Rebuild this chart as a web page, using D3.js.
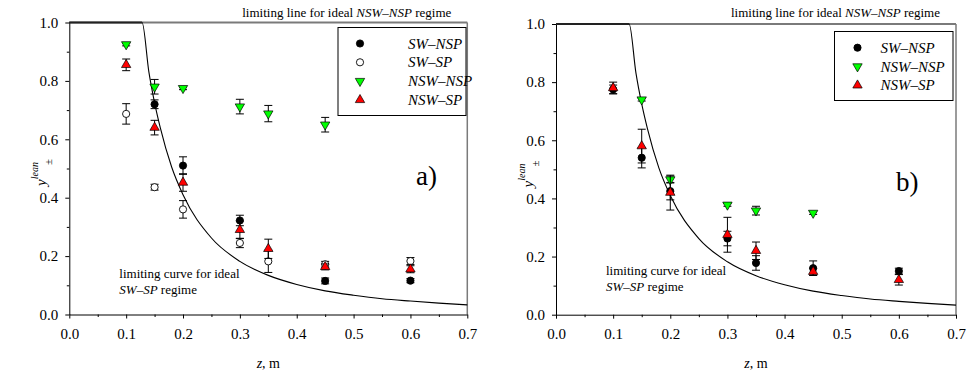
<!DOCTYPE html>
<html>
<head>
<meta charset="utf-8">
<script src="https://cdn.jsdelivr.net/npm/d3@7"></script>
<style>
  html, body { margin: 0; padding: 0; background: #fff; }
  svg text { font-family: "Liberation Serif", "DejaVu Serif", "Times New Roman", serif; }
</style>
</head>
<body>
<svg id="chart" width="969" height="373"></svg>
<script>
// series as [z, y, err]
const aSwNsp = [[0.15, 0.72, 0.015], [0.2, 0.51, 0.03], [0.3, 0.322, 0.018], [0.45, 0.115, 0.01], [0.6, 0.116, 0.007]];
const aSwSp = [[0.1, 0.687, 0.035], [0.15, 0.436, 0.01], [0.2, 0.36, 0.03], [0.3, 0.245, 0.016], [0.35, 0.182, 0.038], [0.45, 0.172, 0.01], [0.6, 0.183, 0.012]];
const aNswNsp = [[0.1, 0.925, 0.005], [0.15, 0.78, 0.025], [0.2, 0.775, 0.005], [0.3, 0.712, 0.025], [0.35, 0.688, 0.028], [0.45, 0.65, 0.025]];
const aNswSp = [[0.1, 0.855, 0.02], [0.15, 0.64, 0.025], [0.2, 0.452, 0.03], [0.3, 0.29, 0.03], [0.35, 0.225, 0.033], [0.45, 0.163, 0.01], [0.6, 0.155, 0.012]];

const bSwNsp = [[0.1, 0.775, 0.015], [0.15, 0.54, 0.035], [0.2, 0.425, 0.03], [0.3, 0.262, 0.025], [0.35, 0.178, 0.025], [0.45, 0.16, 0.025], [0.6, 0.15, 0.01]];
const bNswNsp = [[0.15, 0.74, 0.005], [0.2, 0.465, 0.012], [0.3, 0.378, 0.005], [0.35, 0.358, 0.015], [0.45, 0.35, 0.005]];
const bNswSp = [[0.1, 0.78, 0.02], [0.15, 0.58, 0.058], [0.2, 0.42, 0.06], [0.3, 0.275, 0.06], [0.35, 0.22, 0.03], [0.45, 0.148, 0.012], [0.6, 0.12, 0.018]];

// limiting curve for ideal SW-SP regime
const limitZ = [0, 0.128, 0.14, 0.15, 0.16, 0.18, 0.2, 0.25, 0.3, 0.35, 0.4, 0.45, 0.5, 0.55, 0.6, 0.65, 0.7];
const limitY = [1.0, 1.0, 0.83, 0.725, 0.64, 0.505, 0.41, 0.262, 0.182, 0.134, 0.103, 0.081, 0.066, 0.054, 0.046, 0.039, 0.033];

const xMajor = [0, 0.1, 0.2, 0.3, 0.4, 0.5, 0.6, 0.7];
const xMinor = [0.05, 0.15, 0.25, 0.35, 0.45, 0.55, 0.65];
const yMajor = [0, 0.2, 0.4, 0.6, 0.8, 1.0];
const yMinor = [0.1, 0.3, 0.5, 0.7, 0.9];

const SERIF = '"Liberation Serif", "DejaVu Serif", "Times New Roman", serif';

const styles = {
  "SW–NSP": { shape: "circle", fill: "#000" },
  "SW–SP": { shape: "circle", fill: "#fff" },
  "NSW–NSP": { shape: "down", fill: "#00ff00" },
  "NSW–SP": { shape: "up", fill: "#ff0000" }
};

const svg = d3.select("#chart");

function marker(g, shape, fill) {
  if (shape === "circle") {
    g.append("circle").attr("r", 3.6).attr("fill", fill).attr("stroke", "#000").attr("stroke-width", 0.9);
  } else {
    const p = d3.symbol().type(d3.symbolTriangle).size(38)();
    g.append("path").attr("d", p)
      .attr("transform", shape === "down" ? "rotate(180)" : null)
      .attr("fill", fill).attr("stroke", "#000").attr("stroke-width", 0.7);
  }
}

function drawPanel(p) {
  const x = d3.scaleLinear().domain([0, 0.7]).range([p.left, p.right]);
  const y = d3.scaleLinear().domain([0, 1]).range([p.bottom, p.top]);
  const g = svg.append("g");

  // frame: top (ideal NSW-NSP line) and right in gray
  g.append("line").attr("x1", x(0)).attr("x2", x(0.7)).attr("y1", y(1)).attr("y2", y(1))
    .attr("stroke", "#7a7a7a").attr("stroke-width", 2);
  g.append("line").attr("x1", x(0.7)).attr("x2", x(0.7)).attr("y1", y(1)).attr("y2", y(0))
    .attr("stroke", "#7a7a7a").attr("stroke-width", 1.5);

  // axes
  const fmt = d3.format(".1f");
  g.append("g").attr("transform", `translate(0,${p.bottom})`)
    .call(d3.axisBottom(x).tickValues(xMajor).tickFormat(fmt).tickSize(4).tickPadding(10).tickSizeOuter(0));
  g.append("g").attr("transform", `translate(0,${p.bottom})`)
    .call(d3.axisBottom(x).tickValues(xMinor).tickFormat("").tickSize(2.5).tickSizeOuter(0))
    .select(".domain").remove();
  g.append("g").attr("transform", `translate(${p.left},0)`)
    .call(d3.axisLeft(y).tickValues(yMajor).tickFormat(fmt).tickSize(4).tickPadding(7).tickSizeOuter(0));
  g.append("g").attr("transform", `translate(${p.left},0)`)
    .call(d3.axisLeft(y).tickValues(yMinor).tickFormat("").tickSize(2.5).tickSizeOuter(0))
    .select(".domain").remove();
  g.selectAll(".tick text").style("font-family", SERIF).attr("font-size", 15).attr("fill", "#000");
  g.selectAll(".domain, .tick line").attr("stroke", "#000");

  // limiting curve
  const pts = limitZ.map((z, i) => [z, limitY[i]]);
  g.append("path").datum(pts)
    .attr("d", d3.line().x(d => x(d[0])).y(d => y(d[1])).curve(d3.curveMonotoneX))
    .attr("fill", "none").attr("stroke", "#000").attr("stroke-width", 1.1);
  g.append("line").attr("x1", x(0)).attr("x2", x(0.128)).attr("y1", y(1)).attr("y2", y(1))
    .attr("stroke", "#222").attr("stroke-width", 2);

  // series
  p.series.forEach(s => {
    const st = styles[s.name];
    const sg = g.append("g");
    s.data.forEach(d => {
      const cx = x(d[0]), top = y(d[1] + d[2]), bot = y(d[1] - d[2]);
      sg.append("line").attr("x1", cx).attr("x2", cx).attr("y1", top).attr("y2", bot).attr("stroke", "#000").attr("stroke-width", 1);
      [top, bot].forEach(yy => sg.append("line").attr("x1", cx - 4).attr("x2", cx + 4).attr("y1", yy).attr("y2", yy).attr("stroke", "#000").attr("stroke-width", 1));
    });
    s.data.forEach(d => {
      marker(sg.append("g").attr("transform", `translate(${x(d[0])},${y(d[1])})`), st.shape, st.fill);
    });
  });

  // legend
  const L = p.legend;
  g.append("rect").attr("x", L.x).attr("y", L.y).attr("width", L.w).attr("height", L.h)
    .attr("fill", "#fff").attr("stroke", "#000").attr("stroke-width", 1);
  p.series.forEach((s, i) => {
    const st = styles[s.name];
    const yy = L.y + L.first + i * L.step;
    marker(g.append("g").attr("transform", `translate(${L.x + L.sym},${yy})`), st.shape, st.fill);
    g.append("text").attr("x", L.x + L.txt).attr("y", yy + 5).attr("font-size", 15)
      .attr("font-style", "italic").text(s.name);
  });

  // annotations
  const t1 = g.append("text").attr("x", p.right - 16).attr("y", 17).attr("text-anchor", "end").attr("font-size", 13);
  t1.append("tspan").text("limiting line for ideal ");
  t1.append("tspan").attr("font-style", "italic").text("NSW–NSP");
  t1.append("tspan").text(" regime");

  g.append("text").attr("x", p.left + 50).attr("y", p.curveLabelY).attr("font-size", 13).text("limiting curve for ideal");
  const t2 = g.append("text").attr("x", p.left + 50).attr("y", p.curveLabelY + 16.5).attr("font-size", 13);
  t2.append("tspan").attr("font-style", "italic").text("SW–SP");
  t2.append("tspan").text(" regime");

  g.append("text").attr("x", p.tagX).attr("y", p.tagY).attr("font-size", 27).text(p.tag);

  // axis titles
  const xl = g.append("text").attr("x", (p.left + p.right) / 2).attr("y", 368).attr("text-anchor", "middle").attr("font-size", 14);
  xl.append("tspan").attr("font-style", "italic").text("z");
  xl.append("tspan").text(", m");

  const yl = g.append("text").attr("transform", `translate(${p.left - 23},${p.top + 150}) rotate(-90)`)
    .attr("text-anchor", "middle").attr("font-size", 15);
  yl.append("tspan").attr("font-style", "italic").text("y");
  yl.append("tspan").attr("font-style", "italic").attr("font-size", 10).attr("dy", -8).text("lean");
  yl.append("tspan").attr("font-size", 11).attr("dy", 14).attr("dx", -3).text("±");
}

drawPanel({
  left: 69.3, right: 467.3, top: 22.5, bottom: 314.5,
  series: [
    { name: "SW–NSP", data: aSwNsp },
    { name: "SW–SP", data: aSwSp },
    { name: "NSW–NSP", data: aNswNsp },
    { name: "NSW–SP", data: aNswSp }
  ],
  legend: { x: 338, y: 27.5, w: 128, h: 88, first: 16, step: 18.8, sym: 22, txt: 70 },
  curveLabelY: 277.5, tag: "a)", tagX: 416, tagY: 185
});

drawPanel({
  left: 556, right: 956, top: 24, bottom: 314.7,
  series: [
    { name: "SW–NSP", data: bSwNsp },
    { name: "NSW–NSP", data: bNswNsp },
    { name: "NSW–SP", data: bNswSp }
  ],
  legend: { x: 834.5, y: 31.5, w: 118.5, h: 69, first: 16.2, step: 18.8, sym: 23, txt: 46 },
  curveLabelY: 274.5, tag: "b)", tagX: 896, tagY: 191
});
</script>
</body>
</html>
